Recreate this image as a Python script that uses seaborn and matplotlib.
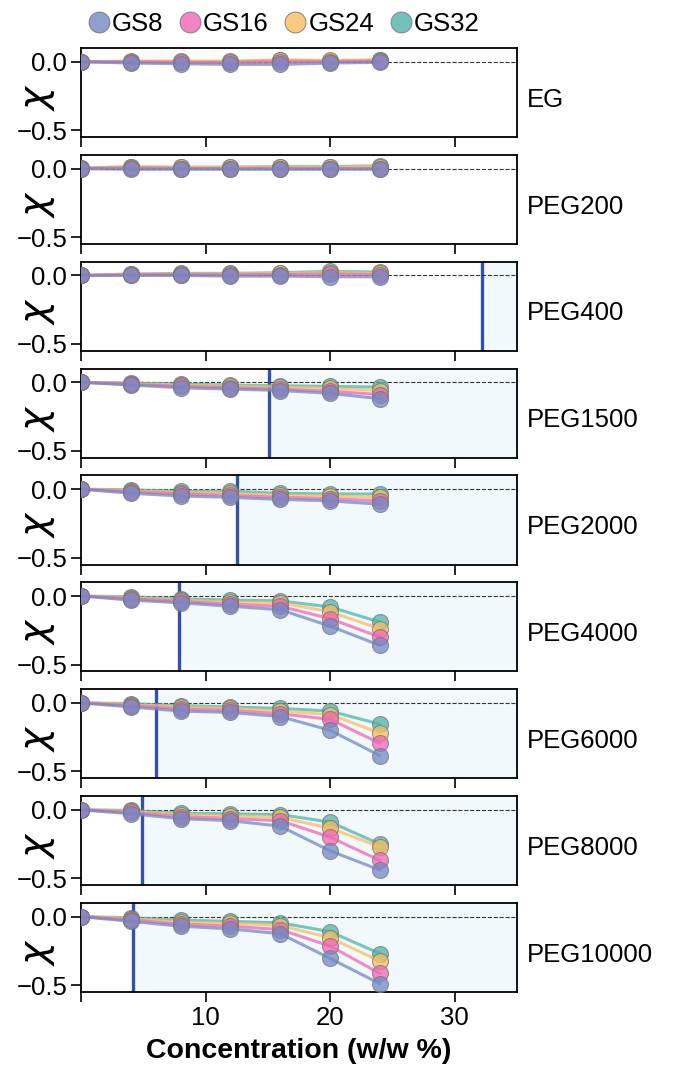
import numpy as np
import pandas as pd

import matplotlib
matplotlib.use("Agg")
import matplotlib.pyplot as plt
from matplotlib.lines import Line2D
import seaborn as sns


# concentrations (w/w %) and polymer panels
concentration = [0, 4, 8, 12, 16, 20, 24]
polymers = ["EG", "PEG200", "PEG400", "PEG1500", "PEG2000",
            "PEG4000", "PEG6000", "PEG8000", "PEG10000"]
series = ["GS8", "GS16", "GS24", "GS32"]

# overlap concentration per polymer (None = outside range)
overlap = [None, None, 32.2, 15.1, 12.5, 7.9, 6.0, 4.9, 4.2]

# chi values, one row per polymer
gs8 = [
    [0, -0.010, -0.015, -0.020, -0.020, -0.010, -0.005],
    [0, -0.005, -0.005, -0.005, -0.005, -0.005, -0.005],
    [0, 0.000, 0.000, -0.005, -0.005, -0.010, -0.010],
    [0, -0.020, -0.040, -0.050, -0.060, -0.080, -0.120],
    [0, -0.030, -0.050, -0.060, -0.075, -0.085, -0.110],
    [0, -0.030, -0.050, -0.075, -0.100, -0.220, -0.360],
    [0, -0.030, -0.060, -0.070, -0.100, -0.200, -0.385],
    [0, -0.030, -0.065, -0.080, -0.120, -0.300, -0.440],
    [0, -0.035, -0.070, -0.090, -0.125, -0.305, -0.490],
]
gs16 = [
    [0, 0.000, -0.005, -0.005, 0.000, 0.000, 0.005],
    [0, 0.005, 0.000, 0.000, 0.000, 0.000, 0.000],
    [0, 0.005, 0.005, 0.005, 0.005, 0.010, 0.005],
    [0, -0.015, -0.030, -0.040, -0.050, -0.065, -0.090],
    [0, -0.020, -0.035, -0.045, -0.060, -0.070, -0.085],
    [0, -0.020, -0.040, -0.060, -0.075, -0.165, -0.300],
    [0, -0.020, -0.045, -0.055, -0.080, -0.120, -0.295],
    [0, -0.020, -0.050, -0.065, -0.080, -0.200, -0.370],
    [0, -0.025, -0.055, -0.070, -0.095, -0.215, -0.415],
]
gs24 = [
    [0, 0.005, 0.005, 0.005, 0.015, 0.010, 0.015],
    [0.005, 0.015, 0.010, 0.010, 0.010, 0.010, 0.015],
    [0, 0.010, 0.010, 0.010, 0.015, 0.020, 0.015],
    [0, -0.010, -0.020, -0.030, -0.035, -0.045, -0.060],
    [0, -0.012, -0.025, -0.030, -0.045, -0.050, -0.060],
    [0, -0.012, -0.030, -0.045, -0.050, -0.115, -0.240],
    [0, -0.012, -0.030, -0.040, -0.060, -0.085, -0.220],
    [0, -0.012, -0.035, -0.045, -0.055, -0.135, -0.270],
    [0, -0.015, -0.040, -0.050, -0.065, -0.155, -0.325],
]
gs32 = [
    [0, 0.000, 0.000, 0.000, 0.010, 0.005, 0.010],
    [0.005, 0.010, 0.010, 0.010, 0.015, 0.015, 0.020],
    [0, 0.010, 0.015, 0.015, 0.020, 0.030, 0.025],
    [0, -0.005, -0.012, -0.020, -0.025, -0.030, -0.035],
    [0, -0.005, -0.015, -0.015, -0.030, -0.035, -0.035],
    [0, -0.005, -0.020, -0.030, -0.035, -0.080, -0.190],
    [0, -0.005, -0.020, -0.030, -0.040, -0.060, -0.155],
    [0, -0.005, -0.025, -0.030, -0.035, -0.090, -0.250],
    [0, -0.008, -0.025, -0.035, -0.045, -0.110, -0.270],
]

palette = {
    "GS8": "#7389c4",
    "GS16": "#f165b4",
    "GS24": "#f8bf5e",
    "GS32": "#4fb3aa",
}

rows = []
for series_name, values in zip(series, [gs8, gs16, gs24, gs32]):
    for polymer, row in zip(polymers, values):
        for conc, chi in zip(concentration, row):
            rows.append({
                "Polymer": polymer,
                "Series": series_name,
                "Concentration": conc,
                "Chi": chi
            })
df = pd.DataFrame(rows)

sns.set_style("ticks")
plt.rcParams["font.family"] = ["Liberation Sans", "DejaVu Sans"]
plt.rcParams["text.color"] = "black"
plt.rcParams["axes.labelcolor"] = "black"
plt.rcParams["xtick.color"] = "black"
plt.rcParams["ytick.color"] = "black"

fig, axes = plt.subplots(
    len(polymers), 1,
    figsize=(6.81, 10.74),
    dpi=100,
    sharex=True
)
fig.subplots_adjust(left=0.119, right=0.759, top=0.9553, bottom=0.0764,
                    hspace=0.2)

for ax, polymer, c_star in zip(axes, polymers, overlap):
    sub = df[df["Polymer"] == polymer]

    if c_star is not None:
        ax.axvspan(c_star, 35, color="#f1f9fd", zorder=0)
        ax.axvline(c_star, color="#3352a6", linewidth=2.4, zorder=1)

    ax.axhline(0, color="#333333", linestyle="--", linewidth=0.8, zorder=1)

    sns.lineplot(
        data=sub,
        x="Concentration",
        y="Chi",
        hue="Series",
        hue_order=series[::-1],
        palette=palette,
        marker="o",
        markersize=11.5,
        markeredgecolor="#777777",
        markeredgewidth=0.8,
        linewidth=2.2,
        alpha=0.75,
        legend=False,
        ax=ax,
        zorder=3
    )

    ax.set_xlim(0, 35)
    ax.set_ylim(-0.55, 0.1)
    ax.set_yticks([0.0, -0.5])
    ax.set_yticklabels(["0.0", "\u22120.5"])
    ax.set_xticks([0, 10, 20, 30])
    ax.set_ylabel(r"$\chi$", fontsize=28)
    ax.yaxis.set_label_coords(-0.055, 0.45)
    ax.set_xlabel("")
    ax.tick_params(labelsize=18.5, width=1.2, length=7, pad=3)
    for spine in ax.spines.values():
        spine.set_linewidth(1.3)
        spine.set_color("black")

    ax.text(1.022, 0.42, polymer, transform=ax.transAxes,
            ha="left", va="center", fontsize=18.5)

axes[-1].set_xticklabels(["", "10", "20", "30"])
axes[-1].set_xlabel("Concentration (w/w %)", fontsize=20.5,
                    fontweight="bold", labelpad=6)

handles = [
    Line2D([], [], marker="o", linestyle="", markersize=15,
           markerfacecolor=palette[name], markeredgecolor="#777777",
           markeredgewidth=0.8, alpha=0.8)
    for name in series
]
fig.legend(
    handles, series,
    loc="upper center",
    bbox_to_anchor=(0.415, 1.01),
    ncol=4,
    frameon=False,
    fontsize=18.5,
    handletextpad=0.0,
    columnspacing=0.55,
    handlelength=1.0
)

fig.savefig("out.png", dpi=100)
